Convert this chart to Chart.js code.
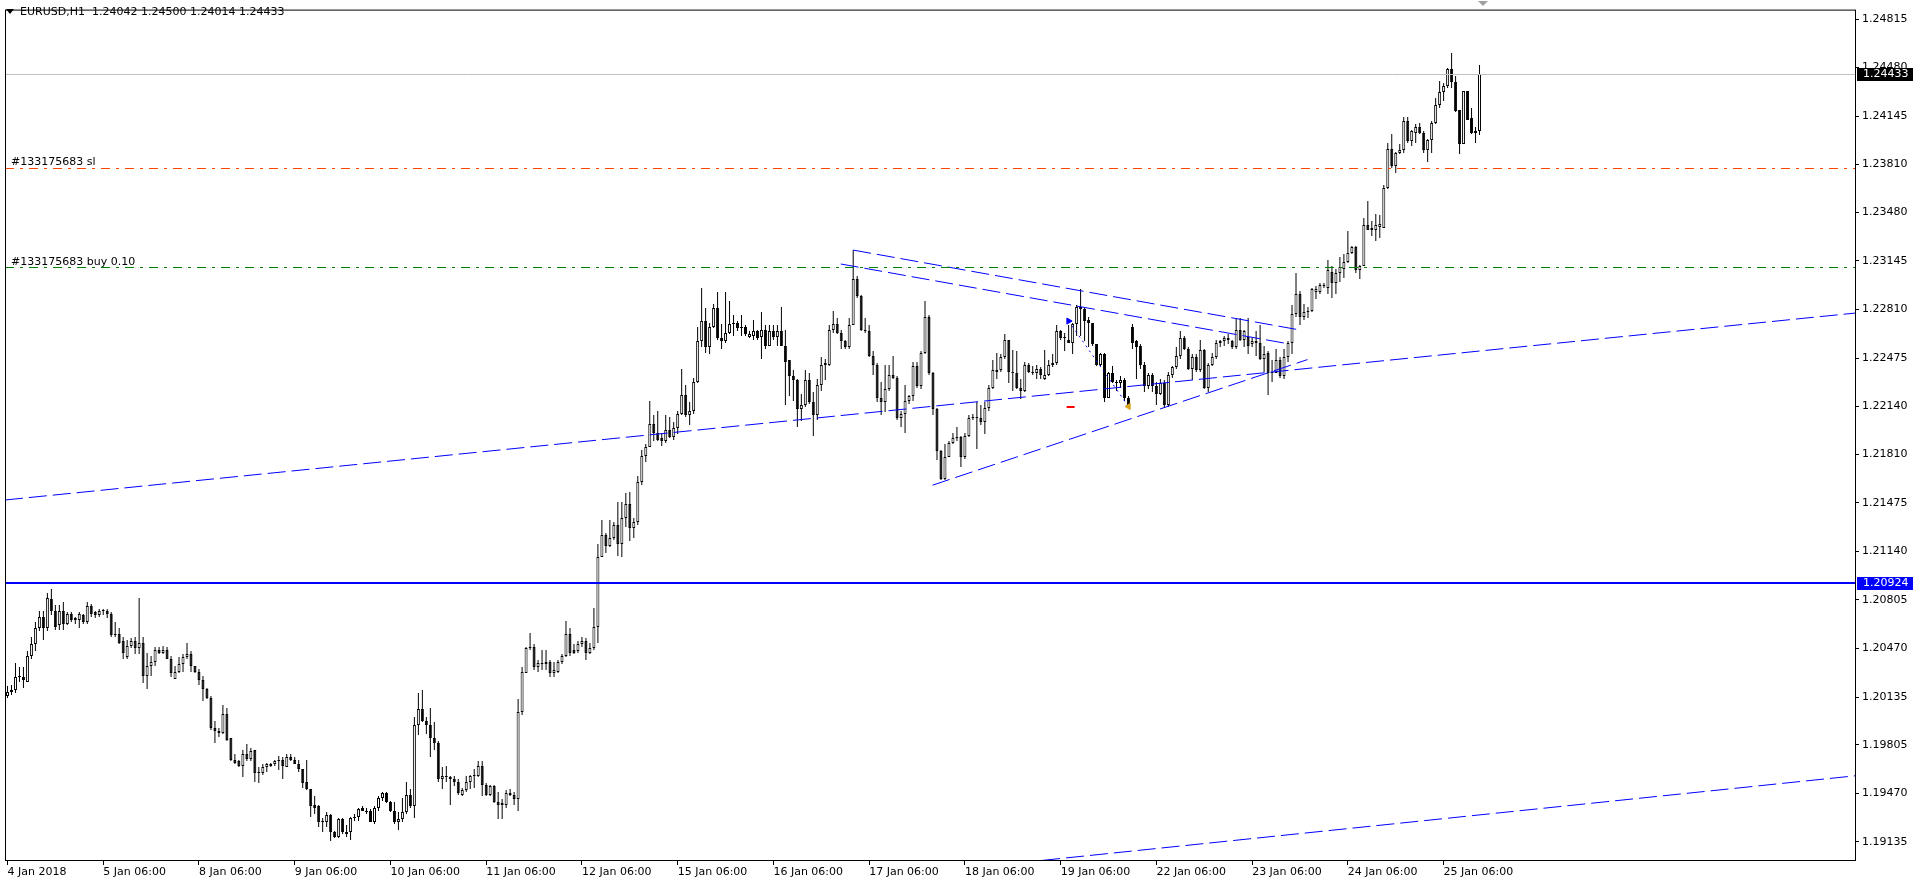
<!DOCTYPE html>
<html>
<head>
<meta charset="utf-8">
<title>EURUSD,H1</title>
<script src="https://cdn.jsdelivr.net/npm/chart.js@4.4.1/dist/chart.umd.min.js"></script>
<style>
  html, body { margin: 0; padding: 0; background: #fff; overflow: hidden; }
  #wrap { width: 1914px; height: 880px; }
</style>
</head>
<body>
<div id="wrap"><canvas id="chart" width="1914" height="880"></canvas></div>
<script>
// ── EURUSD H1, one entry per hourly bar (4 Jan 06:00 → 25 Jan 15:00) ──
const opens = [
  1.2014,1.2017,1.2018,1.2027,1.2027,1.2024,1.2042,1.2050,1.2061,1.2069,
  1.2061,1.2081,1.2073,1.2063,1.2073,1.2064,1.2071,1.2068,1.2067,1.2070,
  1.2065,1.2076,1.2072,1.2070,1.2073,1.2073,1.2071,1.2057,1.2057,1.2052,
  1.2041,1.2049,1.2052,1.2047,1.2051,1.2028,1.2035,1.2038,1.2046,1.2044,
  1.2046,1.2040,1.2026,1.2031,1.2036,1.2041,1.2043,1.2035,1.2031,1.2025,
  1.2019,1.2013,1.1992,1.1990,1.1989,1.2002,1.1985,1.1970,1.1969,1.1966,
  1.1974,1.1971,1.1977,1.1962,1.1961,1.1965,1.1966,1.1967,1.1969,1.1970,
  1.1965,1.1972,1.1970,1.1967,1.1964,1.1955,1.1950,1.1939,1.1938,1.1928,
  1.1927,1.1932,1.1920,1.1917,1.1929,1.1920,1.1920,1.1930,1.1931,1.1937,
  1.1935,1.1935,1.1927,1.1937,1.1944,1.1947,1.1941,1.1935,1.1927,1.1929,
  1.1934,1.1946,1.1938,1.1994,1.2005,1.1997,1.1994,1.1985,1.1982,1.1957,
  1.1959,1.1958,1.1957,1.1955,1.1946,1.1949,1.1955,1.1959,1.1959,1.1966,
  1.1953,1.1946,1.1952,1.1941,1.1939,1.1939,1.1946,1.1946,1.1943,1.2003,
  1.2030,1.2047,1.2048,1.2034,1.2036,1.2036,1.2038,1.2030,1.2031,1.2038,
  1.2042,1.2057,1.2046,1.2045,1.2050,1.2052,1.2044,1.2047,1.2062,1.2110,
  1.2125,1.2118,1.2123,1.2132,1.2119,1.2137,1.2147,1.2130,1.2134,1.2162,
  1.2180,1.2186,1.2202,1.2196,1.2192,1.2190,1.2198,1.2193,1.2199,1.2209,
  1.2222,1.2208,1.2211,1.2231,1.2259,1.2273,1.2255,1.2269,1.2282,1.2261,
  1.2259,1.2265,1.2271,1.2272,1.2268,1.2269,1.2262,1.2263,1.2266,1.2262,
  1.2267,1.2256,1.2266,1.2262,1.2266,1.2256,1.2246,1.2235,1.2232,1.2212,
  1.2215,1.2232,1.2217,1.2208,1.2229,1.2243,1.2243,1.2267,1.2271,1.2265,
  1.2259,1.2255,1.2270,1.2302,1.2290,1.2267,1.2266,1.2249,1.2243,1.2220,
  1.2217,1.2226,1.2236,1.2234,1.2206,1.2209,1.2218,1.2221,1.2242,1.2228,
  1.2251,1.2276,1.2237,1.2212,1.2183,1.2164,1.2179,1.2189,1.2192,1.2193,
  1.2179,1.2194,1.2206,1.2207,1.2206,1.2203,1.2213,1.2227,1.2239,1.2239,
  1.2248,1.2260,1.2238,1.2237,1.2227,1.2225,1.2243,1.2238,1.2237,1.2240,
  1.2233,1.2236,1.2243,1.2244,1.2266,1.2261,1.2260,1.2258,1.2271,1.2283,
  1.2281,1.2274,1.2272,1.2257,1.2243,1.2250,1.2220,1.2237,1.2231,1.2230,
  1.2232,1.2220,1.2269,1.2259,1.2256,1.2243,1.2228,1.2236,1.2228,1.2223,
  1.2230,1.2215,1.2236,1.2241,1.2249,1.2261,1.2254,1.2240,1.2248,1.2239,
  1.2253,1.2227,1.2243,1.2248,1.2258,1.2259,1.2261,1.2259,1.2255,1.2267,
  1.2260,1.2262,1.2257,1.2258,1.2258,1.2247,1.2251,1.2237,1.2237,1.2246,
  1.2235,1.2248,1.2258,1.2278,1.2292,1.2276,1.2279,1.2280,1.2293,1.2293,
  1.2297,1.2296,1.2307,1.2299,1.2306,1.2309,1.2314,1.2320,1.2324,1.2308,
  1.2311,1.2339,1.2337,1.2336,1.2338,1.2337,1.2365,1.2392,1.2380,1.2389,
  1.2391,1.2411,1.2397,1.2403,1.2407,1.2403,1.2391,1.2398,1.2410,1.2422,
  1.2431,1.2435,1.2447,1.2438,1.2419,1.2395,1.2432,1.2413,1.2403,1.24042
];
const highs = [
  1.2021,1.2022,1.2037,1.2034,1.2034,1.2045,1.2055,1.2065,1.2073,1.2073,
  1.2085,1.2088,1.2077,1.2077,1.2079,1.2072,1.2072,1.2069,1.2072,1.2071,
  1.2079,1.2078,1.2073,1.2074,1.2074,1.2074,1.2072,1.2065,1.2061,1.2055,
  1.2053,1.2054,1.2055,1.2082,1.2055,1.2044,1.2042,1.2048,1.2048,1.2049,
  1.2048,1.2042,1.2035,1.2041,1.2043,1.2051,1.2045,1.2035,1.2033,1.2028,
  1.2020,1.2014,1.1997,1.1992,1.2008,1.2006,1.1985,1.1974,1.1970,1.1977,
  1.1981,1.1978,1.1977,1.1965,1.1967,1.1968,1.1968,1.1970,1.1973,1.1972,
  1.1974,1.1974,1.1972,1.1970,1.1964,1.1970,1.1950,1.1945,1.1939,1.1930,
  1.1934,1.1933,1.1921,1.1930,1.1930,1.1925,1.1931,1.1933,1.1937,1.1938,
  1.1937,1.1936,1.1938,1.1945,1.1948,1.1948,1.1942,1.1941,1.1934,1.1944,
  1.1955,1.1950,1.2000,1.2016,1.2018,1.2000,1.2006,1.1996,1.1983,1.1965,
  1.1966,1.1959,1.1959,1.1957,1.1951,1.1959,1.1960,1.1964,1.1969,1.1969,
  1.1954,1.1953,1.1953,1.1948,1.1943,1.1949,1.1950,1.1948,1.2012,1.2034,
  1.2048,1.2058,1.2050,1.2039,1.2046,1.2046,1.2039,1.2038,1.2039,1.2043,
  1.2066,1.2061,1.2050,1.2052,1.2055,1.2054,1.2051,1.2075,1.2119,1.2136,
  1.2127,1.2136,1.2134,1.2148,1.2148,1.2154,1.2155,1.2137,1.2166,1.2184,
  1.2188,1.2218,1.2208,1.2211,1.2196,1.2208,1.2207,1.2203,1.2211,1.2240,
  1.2229,1.2217,1.2234,1.2269,1.2296,1.2282,1.2272,1.2285,1.2293,1.2271,
  1.2293,1.2287,1.2277,1.2273,1.2277,1.2270,1.2266,1.2274,1.2267,1.2279,
  1.2270,1.2270,1.2270,1.2270,1.2283,1.2267,1.2246,1.2239,1.2233,1.2223,
  1.2239,1.2237,1.2224,1.2233,1.2248,1.2247,1.2270,1.2280,1.2275,1.2267,
  1.2260,1.2275,1.2322,1.2304,1.2291,1.2275,1.2270,1.2252,1.2244,1.2231,
  1.2243,1.2243,1.2249,1.2235,1.2211,1.2229,1.2222,1.2245,1.2245,1.2252,
  1.2287,1.2277,1.2238,1.2213,1.2184,1.2188,1.2190,1.2196,1.2200,1.2194,
  1.2196,1.2208,1.2209,1.2217,1.2215,1.2217,1.2229,1.2246,1.2251,1.2250,
  1.2264,1.2260,1.2253,1.2252,1.2233,1.2245,1.2244,1.2242,1.2243,1.2241,
  1.2253,1.2246,1.2250,1.2270,1.2267,1.2265,1.2270,1.2272,1.2284,1.2295,
  1.2283,1.2276,1.2272,1.2257,1.2251,1.2251,1.2238,1.2242,1.2232,1.2235,
  1.2234,1.2221,1.2271,1.2260,1.2257,1.2245,1.2237,1.2237,1.2231,1.2233,
  1.2232,1.2238,1.2242,1.2255,1.2266,1.2263,1.2255,1.2250,1.2250,1.2260,
  1.2254,1.2244,1.2251,1.2260,1.2260,1.2263,1.2264,1.2260,1.2275,1.2275,
  1.2267,1.2275,1.2262,1.2266,1.2270,1.2256,1.2252,1.2246,1.2254,1.2248,
  1.2254,1.2259,1.2284,1.2306,1.2294,1.2285,1.2283,1.2296,1.2297,1.2299,
  1.2299,1.2315,1.2311,1.2309,1.2317,1.2319,1.2335,1.2325,1.2325,1.2312,
  1.2344,1.2356,1.2342,1.2347,1.2346,1.2367,1.2396,1.2402,1.2390,1.2395,
  1.2414,1.2414,1.2405,1.2409,1.2410,1.2404,1.2399,1.2411,1.2427,1.2439,
  1.2437,1.2448,1.2458,1.2442,1.2419,1.2432,1.2432,1.2420,1.2407,1.24500
];
const lows = [
  1.2013,1.2015,1.2016,1.2024,1.2020,1.2024,1.2040,1.2045,1.2059,1.2053,
  1.2059,1.2070,1.2060,1.2060,1.2060,1.2063,1.2065,1.2064,1.2061,1.2064,
  1.2064,1.2069,1.2068,1.2069,1.2070,1.2068,1.2055,1.2055,1.2050,1.2040,
  1.2040,1.2047,1.2043,1.2043,1.2023,1.2019,1.2028,1.2035,1.2043,1.2043,
  1.2040,1.2027,1.2026,1.2030,1.2031,1.2040,1.2031,1.2030,1.2022,1.2011,
  1.2012,1.1991,1.1982,1.1986,1.1988,1.1983,1.1969,1.1967,1.1965,1.1958,
  1.1969,1.1969,1.1955,1.1954,1.1960,1.1962,1.1965,1.1966,1.1963,1.1957,
  1.1965,1.1969,1.1967,1.1962,1.1951,1.1949,1.1931,1.1933,1.1924,1.1920,
  1.1924,1.1914,1.1916,1.1916,1.1919,1.1917,1.1915,1.1928,1.1928,1.1935,
  1.1933,1.1927,1.1926,1.1935,1.1942,1.1940,1.1934,1.1926,1.1922,1.1927,
  1.1933,1.1937,1.1930,1.1987,1.1996,1.1988,1.1972,1.1977,1.1955,1.1950,
  1.1955,1.1939,1.1952,1.1946,1.1945,1.1948,1.1950,1.1951,1.1958,1.1945,
  1.1945,1.1945,1.1940,1.1929,1.1929,1.1937,1.1945,1.1939,1.1935,1.2001,
  1.2030,1.2046,1.2032,1.2031,1.2032,1.2032,1.2027,1.2027,1.2030,1.2036,
  1.2041,1.2042,1.2043,1.2044,1.2048,1.2039,1.2043,1.2046,1.2051,1.2110,
  1.2113,1.2117,1.2122,1.2111,1.2110,1.2131,1.2121,1.2123,1.2132,1.2160,
  1.2176,1.2186,1.2190,1.2190,1.2187,1.2189,1.2192,1.2191,1.2195,1.2208,
  1.2207,1.2201,1.2209,1.2230,1.2255,1.2251,1.2250,1.2268,1.2260,1.2254,
  1.2258,1.2264,1.2263,1.2266,1.2263,1.2263,1.2261,1.2260,1.2260,1.2247,
  1.2254,1.2256,1.2260,1.2256,1.2256,1.2215,1.2221,1.2218,1.2200,1.2204,
  1.2214,1.2216,1.2194,1.2205,1.2225,1.2232,1.2242,1.2265,1.2264,1.2254,
  1.2254,1.2254,1.2270,1.2289,1.2266,1.2265,1.2248,1.2236,1.2217,1.2208,
  1.2210,1.2225,1.2233,1.2205,1.2200,1.2196,1.2216,1.2218,1.2227,1.2226,
  1.2250,1.2236,1.2208,1.2177,1.2163,1.2163,1.2179,1.2188,1.2190,1.2172,
  1.2178,1.2193,1.2205,1.2185,1.2201,1.2195,1.2211,1.2226,1.2233,1.2238,
  1.2247,1.2230,1.2225,1.2226,1.2219,1.2224,1.2237,1.2236,1.2233,1.2233,
  1.2232,1.2235,1.2241,1.2243,1.2260,1.2252,1.2258,1.2250,1.2263,1.2263,
  1.2259,1.2255,1.2256,1.2242,1.2242,1.2217,1.2220,1.2230,1.2225,1.2227,
  1.2218,1.2213,1.2254,1.2233,1.2240,1.2224,1.2226,1.2224,1.2215,1.2222,
  1.2213,1.2214,1.2234,1.2240,1.2247,1.2253,1.2239,1.2232,1.2238,1.2238,
  1.2226,1.2224,1.2242,1.2247,1.2255,1.2256,1.2257,1.2254,1.2254,1.2259,
  1.2255,1.2250,1.2255,1.2249,1.2246,1.2238,1.2222,1.2231,1.2237,1.2234,
  1.2233,1.2245,1.2250,1.2276,1.2270,1.2274,1.2275,1.2279,1.2288,1.2292,
  1.2296,1.2292,1.2289,1.2292,1.2300,1.2303,1.2313,1.2319,1.2306,1.2302,
  1.2311,1.2336,1.2332,1.2328,1.2330,1.2337,1.2364,1.2379,1.2375,1.2388,
  1.2389,1.2396,1.2394,1.2396,1.2402,1.2389,1.2383,1.2389,1.2409,1.2420,
  1.2425,1.2434,1.2434,1.2417,1.2388,1.2395,1.2412,1.2402,1.2396,1.24014
];
const closes = [
  1.2017,1.2018,1.2027,1.2027,1.2025,1.2042,1.2050,1.2061,1.2069,1.2061,
  1.2082,1.2073,1.2062,1.2073,1.2064,1.2071,1.2067,1.2067,1.2071,1.2065,
  1.2076,1.2071,1.2070,1.2073,1.2073,1.2071,1.2056,1.2056,1.2051,1.2044,
  1.2049,1.2052,1.2047,1.2051,1.2028,1.2035,1.2038,1.2046,1.2044,1.2046,
  1.2040,1.2030,1.2031,1.2036,1.2041,1.2043,1.2035,1.2031,1.2025,1.2019,
  1.2013,1.1992,1.1990,1.1989,1.2002,1.1984,1.1970,1.1968,1.1966,1.1974,
  1.1971,1.1976,1.1961,1.1961,1.1965,1.1967,1.1967,1.1969,1.1970,1.1966,
  1.1972,1.1970,1.1967,1.1964,1.1954,1.1950,1.1938,1.1937,1.1927,1.1927,
  1.1932,1.1920,1.1917,1.1929,1.1920,1.1919,1.1930,1.1931,1.1936,1.1935,
  1.1934,1.1927,1.1937,1.1944,1.1947,1.1941,1.1935,1.1927,1.1929,1.1934,
  1.1946,1.1938,1.1994,1.2005,1.1997,1.1994,1.1985,1.1982,1.1957,1.1959,
  1.1958,1.1957,1.1955,1.1947,1.1949,1.1955,1.1959,1.1960,1.1966,1.1953,
  1.1946,1.1952,1.1941,1.1939,1.1940,1.1947,1.1947,1.1943,1.2003,1.2031,
  1.2047,1.2048,1.2034,1.2037,1.2037,1.2038,1.2030,1.2032,1.2038,1.2042,
  1.2057,1.2044,1.2044,1.2050,1.2052,1.2044,1.2047,1.2062,1.2110,1.2125,
  1.2118,1.2123,1.2132,1.2119,1.2137,1.2147,1.2130,1.2134,1.2162,1.2180,
  1.2186,1.2202,1.2196,1.2191,1.2190,1.2198,1.2193,1.2199,1.2209,1.2222,
  1.2208,1.2211,1.2231,1.2259,1.2273,1.2255,1.2269,1.2282,1.2261,1.2259,
  1.2265,1.2271,1.2272,1.2268,1.2268,1.2264,1.2264,1.2266,1.2261,1.2267,
  1.2256,1.2266,1.2262,1.2266,1.2256,1.2245,1.2235,1.2232,1.2212,1.2215,
  1.2232,1.2217,1.2208,1.2229,1.2243,1.2244,1.2267,1.2271,1.2265,1.2259,
  1.2255,1.2270,1.2302,1.2290,1.2267,1.2266,1.2249,1.2243,1.2220,1.2217,
  1.2226,1.2236,1.2234,1.2206,1.2209,1.2218,1.2221,1.2242,1.2228,1.2251,
  1.2276,1.2237,1.2212,1.2183,1.2164,1.2179,1.2189,1.2192,1.2193,1.2179,
  1.2194,1.2206,1.2207,1.2206,1.2203,1.2213,1.2227,1.2239,1.2238,1.2248,
  1.2260,1.2238,1.2237,1.2227,1.2225,1.2243,1.2238,1.2237,1.2240,1.2236,
  1.2236,1.2243,1.2244,1.2266,1.2261,1.2262,1.2258,1.2271,1.2283,1.2281,
  1.2273,1.2272,1.2257,1.2243,1.2250,1.2220,1.2237,1.2231,1.2230,1.2232,
  1.2220,1.2215,1.2258,1.2255,1.2243,1.2228,1.2236,1.2228,1.2223,1.2230,
  1.2215,1.2236,1.2241,1.2249,1.2261,1.2254,1.2240,1.2248,1.2239,1.2253,
  1.2227,1.2243,1.2248,1.2258,1.2259,1.2261,1.2260,1.2255,1.2267,1.2260,
  1.2266,1.2256,1.2259,1.2259,1.2247,1.2250,1.2237,1.2238,1.2246,1.2235,
  1.2248,1.2258,1.2278,1.2292,1.2276,1.2279,1.2280,1.2295,1.2295,1.2298,
  1.2298,1.2308,1.2299,1.2306,1.2310,1.2314,1.2320,1.2324,1.2308,1.2311,
  1.2339,1.2336,1.2336,1.2339,1.2340,1.2365,1.2392,1.2380,1.2389,1.2391,
  1.2411,1.2397,1.2404,1.2407,1.2403,1.2391,1.2398,1.2410,1.2422,1.2431,
  1.2435,1.2447,1.2438,1.2418,1.2395,1.2432,1.2412,1.2403,1.2404,1.24433
];

// ── axis labels ───────────────────────────────────────────
const xTickIdx    = [0, 24, 48, 72, 96, 120, 144, 168, 192, 216, 240, 264, 288, 312, 336, 360];
const xTickLabels = ['4 Jan 2018', '5 Jan 06:00', '8 Jan 06:00', '9 Jan 06:00', '10 Jan 06:00',
                     '11 Jan 06:00', '12 Jan 06:00', '15 Jan 06:00', '16 Jan 06:00', '17 Jan 06:00',
                     '18 Jan 06:00', '19 Jan 06:00', '22 Jan 06:00', '23 Jan 06:00', '24 Jan 06:00',
                     '25 Jan 06:00'];
const yTicks = [1.24815, 1.24480, 1.24145, 1.23810, 1.23480, 1.23145, 1.22810, 1.22475, 1.22140,
                1.21810, 1.21475, 1.21140, 1.20805, 1.20470, 1.20135, 1.19805, 1.19470, 1.19135];

// ── chart objects (bar index, price) ──────────────────────
const levelBlue = 1.20924;
const levelSL   = 1.23786;
const levelBuy  = 1.23097;
const trendA = [[212, 1.2322], [323.875, 1.22669]];
const trendB = [[208.875, 1.23124], [321.125, 1.22573]];
const trendC = [[231.875, 1.21597], [325.875, 1.22464]];
const trendD = [[-0.625, 1.21495], [463.125, 1.22785]];
const trendE = [[259.375, 1.19007], [463.125, 1.19591]];
const tradeLine  = [[266, 1.2273], [281, 1.2214]];
const slMark     = [[265.5, 1.2214], [267.5, 1.2214]];
const orderLabels = ['#133175683 sl', '#133175683 buy 0.10'];

const X_MIN = -0.625, X_MAX = 463.125;
const Y_MIN = 1.19003, Y_MAX = 1.24880;
const FONT = "'DejaVu Sans', sans-serif";

Chart.defaults.font.family = FONT;
Chart.defaults.font.size = 11;
Chart.defaults.color = '#000';

const last = closes.length - 1;
const bidPrice = closes[last];

function seg(pts, color, dash, width) {
    return {
        type: 'line',
        data: pts.map(p => ({ x: p[0], y: p[1] })),
        borderColor: color,
        borderWidth: width || 1,
        borderDash: dash || [],
        pointRadius: 0,
        fill: false,
        tension: 0,
        order: 1
    };
}
function hline(v, color, dash, width) {
    return seg([[X_MIN, v], [X_MAX, v]], color, dash, width);
}

// ── snap candles and flat lines to whole pixels (terminal look) ──
const pixelSnap = {
    id: 'pixelSnap',
    beforeDatasetsDraw(chart) {
        chart.data.datasets.forEach((ds, i) => {
            const meta = chart.getDatasetMeta(i);
            if (meta.type === 'bar') {
                meta.data.forEach(el => {
                    const top = Math.round(Math.min(el.y, el.base));
                    let bot = Math.round(Math.max(el.y, el.base));
                    if (bot - top < 1) bot = top + 1;
                    el.y = top;
                    el.base = bot;
                });
            } else if (ds.showLine !== false && meta.data.length === 2 && meta.data[0].y === meta.data[1].y) {
                const w = ds.borderWidth || 1;
                meta.data.forEach(pt => { pt.y = w % 2 ? Math.floor(pt.y) + 0.5 : Math.round(pt.y); });
            }
        });
    }
};

// ── extra drawing: frame, header, order labels, price boxes ─
const overlay = {
    id: 'overlay',
    afterDraw(chart) {
        const { ctx, chartArea: a } = chart;
        const y = chart.scales.y;
        ctx.save();

        ctx.strokeStyle = '#000';
        ctx.lineWidth = 1;
        ctx.strokeRect(a.left + 0.5, a.top + 0.5, a.right - a.left, a.bottom - a.top - 1);

        // header
        ctx.fillStyle = '#000';
        ctx.beginPath();
        ctx.moveTo(6, 9); ctx.lineTo(14, 9); ctx.lineTo(10, 14); ctx.closePath();
        ctx.fill();
        ctx.font = '11px ' + FONT;
        ctx.textBaseline = 'middle';
        ctx.textAlign = 'left';
        ctx.fillText('EURUSD,H1', 20, 12);
        const ohlc = [opens[last], highs[last], lows[last], closes[last]].map(v => v.toFixed(5)).join(' ');
        ctx.fillText(ohlc, 92, 12);

        // order labels above their lines
        ctx.textBaseline = 'alphabetic';
        ctx.fillText(orderLabels[0], 11, Math.round(y.getPixelForValue(levelSL)) - 3);
        ctx.fillText(orderLabels[1], 11, Math.round(y.getPixelForValue(levelBuy)) - 3);

        // chart shift marker
        ctx.fillStyle = '#A0A0A0';
        ctx.beginPath();
        ctx.moveTo(1478, 1); ctx.lineTo(1488, 1); ctx.lineTo(1483, 6); ctx.closePath();
        ctx.fill();

        // price boxes on the axis
        function priceBox(v, bg) {
            const py = Math.round(y.getPixelForValue(v));
            ctx.fillStyle = bg;
            ctx.fillRect(a.right + 2, py - 6, 56, 13);
            ctx.fillStyle = '#FFFFFF';
            ctx.textBaseline = 'middle';
            ctx.fillText(v.toFixed(5), a.right + 8, py + 0.5);
        }
        priceBox(bidPrice, '#000000');
        priceBox(levelBlue, '#0000FF');
        ctx.restore();
    }
};

const ctx = document.getElementById('chart').getContext('2d');
new Chart(ctx, {
    type: 'bar',
    data: {
        datasets: [
            {
                label: 'body',
                data: opens.map((o, i) => ({ x: i, y: [o, closes[i]] })),
                backgroundColor: opens.map((o, i) => closes[i] >= o ? '#FFFFFF' : '#000000'),
                borderColor: '#000000',
                borderWidth: 1,
                borderSkipped: false,
                barThickness: 3,
                minBarLength: 1,
                inflateAmount: 0,
                grouped: false,
                order: 2
            },
            {
                label: 'wick',
                data: highs.map((h, i) => ({ x: i, y: [lows[i], h] })),
                backgroundColor: '#000000',
                borderWidth: 0,
                barThickness: 1,
                inflateAmount: 0,
                grouped: false,
                order: 3
            },
            hline(bidPrice, '#C0C0C0'),
            hline(levelBlue, '#0000FF', [], 2),
            hline(levelSL, '#FF4500', [9, 6, 3, 6]),
            hline(levelBuy, '#008000', [9, 6, 3, 6]),
            seg(trendA, '#0000FF', [18, 6]),
            seg(trendB, '#0000FF', [18, 6]),
            seg(trendC, '#0000FF', [18, 6]),
            seg(trendD, '#0000FF', [18, 6]),
            seg(trendE, '#0000FF', [18, 6]),
            seg(tradeLine, '#0000FF', [2, 4]),
            seg(slMark, '#FF0000', [], 2),
            {
                type: 'line',
                data: [{ x: tradeLine[0][0], y: tradeLine[0][1] }],
                showLine: false,
                pointStyle: 'triangle',
                rotation: 90,
                pointRadius: 3.5,
                pointBackgroundColor: '#0000FF',
                pointBorderColor: '#0000FF',
                order: 0
            },
            {
                type: 'line',
                data: [{ x: tradeLine[1][0], y: tradeLine[1][1] }],
                showLine: false,
                pointStyle: 'triangle',
                rotation: -90,
                pointRadius: 3.5,
                pointBackgroundColor: '#DAA520',
                pointBorderColor: '#DAA520',
                order: 0
            }
        ]
    },
    options: {
        responsive: false,
        animation: false,
        devicePixelRatio: 1,
        events: [],
        layout: { padding: 0 },
        plugins: { legend: { display: false }, tooltip: { enabled: false } },
        scales: {
            x: {
                type: 'linear',
                min: X_MIN,
                max: X_MAX,
                offset: false,
                afterBuildTicks: s => { s.ticks = xTickIdx.map(v => ({ value: v })); },
                afterFit: s => { s.height = 19; },
                ticks: {
                    autoSkip: false,
                    maxRotation: 0,
                    align: 'start',
                    padding: 1,
                    color: '#000',
                    font: { family: FONT, size: 11 },
                    callback: (v, k) => xTickLabels[k]
                },
                grid: { drawOnChartArea: false, drawTicks: true, tickLength: 4, color: '#000', offset: false },
                border: { display: false }
            },
            y: {
                type: 'linear',
                position: 'right',
                min: Y_MIN,
                max: Y_MAX,
                afterBuildTicks: s => { s.ticks = yTicks.map(v => ({ value: v })); },
                afterFit: s => { s.width = 59; },
                ticks: {
                    autoSkip: false,
                    padding: 3,
                    color: '#000',
                    font: { family: FONT, size: 11 },
                    callback: v => v.toFixed(5)
                },
                grid: { drawOnChartArea: false, drawTicks: true, tickLength: 4, color: '#000' },
                border: { display: false }
            }
        }
    },
    plugins: [pixelSnap, overlay]
});
</script>
</body>
</html>
